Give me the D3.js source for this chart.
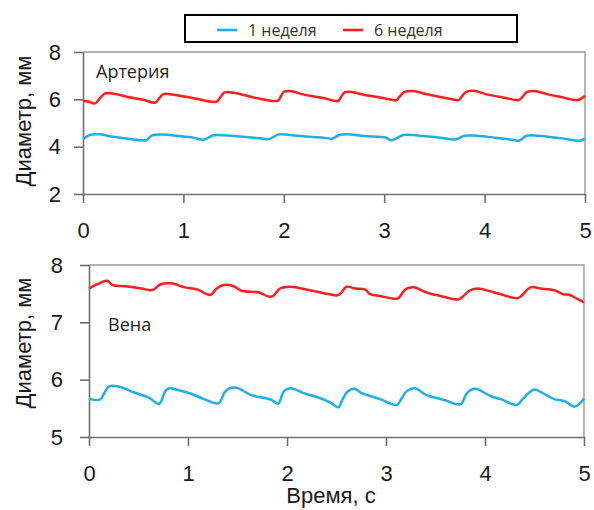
<!DOCTYPE html>
<html>
<head>
<meta charset="utf-8">
<script src="https://cdn.jsdelivr.net/npm/d3@7"></script>
<style>
  html, body { margin: 0; padding: 0; background: #fff; }
  svg { display: block; }
</style>
</head>
<body>
<svg id="chart" width="594" height="510"></svg>
<script>
// Diameter traces, [time s, diameter mm]
const arteryWeek1 = [
  [0,4.32],[0.07,4.5],[0.17,4.52],[0.3,4.42],[0.45,4.33],[0.58,4.27],[0.63,4.27],[0.68,4.46],
  [0.78,4.51],[0.95,4.45],[1.1,4.38],[1.2,4.29],[1.3,4.48],[1.5,4.45],[1.7,4.38],[1.8,4.33],
  [1.85,4.32],[1.95,4.52],[2.06,4.49],[2.25,4.42],[2.45,4.35],[2.48,4.33],[2.55,4.49],[2.63,4.52],
  [2.8,4.45],[3.02,4.38],[3.07,4.27],[3.12,4.35],[3.19,4.49],[3.29,4.49],[3.39,4.45],[3.56,4.38],
  [3.66,4.31],[3.72,4.31],[3.8,4.46],[3.92,4.46],[4.1,4.38],[4.29,4.28],[4.34,4.25],[4.42,4.46],
  [4.53,4.46],[4.65,4.41],[4.78,4.35],[4.95,4.25],[5.0,4.35]
];
const arteryWeek6 = [
  [0,5.93],[0.06,5.9],[0.12,5.83],[0.17,6.05],[0.22,6.25],[0.31,6.24],[0.45,6.1],[0.6,5.98],
  [0.72,5.86],[0.76,6.05],[0.8,6.22],[0.92,6.18],[1.1,6.05],[1.33,5.9],[1.37,6.1],[1.41,6.29],
  [1.5,6.28],[1.7,6.08],[1.94,5.94],[1.97,6.12],[2.0,6.32],[2.08,6.34],[2.19,6.21],[2.4,6.05],
  [2.54,5.93],[2.57,6.1],[2.61,6.3],[2.69,6.3],[2.81,6.18],[3.0,6.05],[3.12,5.96],[3.15,6.1],
  [3.2,6.3],[3.29,6.35],[3.39,6.25],[3.46,6.18],[3.6,6.07],[3.74,5.97],[3.77,6.1],[3.81,6.3],
  [3.89,6.36],[4.02,6.21],[4.2,6.07],[4.34,5.97],[4.38,6.12],[4.42,6.3],[4.5,6.35],[4.62,6.22],
  [4.75,6.11],[4.93,5.97],[5.0,6.15]
];
const veinWeek1 = [
  [0,5.67],[0.11,5.65],[0.15,5.75],[0.2,5.88],[0.3,5.88],[0.45,5.78],[0.6,5.69],[0.71,5.58],
  [0.77,5.8],[0.81,5.85],[0.9,5.82],[1.04,5.75],[1.15,5.67],[1.31,5.59],[1.37,5.78],[1.42,5.85],
  [1.49,5.86],[1.64,5.73],[1.84,5.65],[1.91,5.58],[1.97,5.8],[2.04,5.85],[2.16,5.77],[2.33,5.68],
  [2.44,5.6],[2.52,5.52],[2.56,5.65],[2.61,5.79],[2.68,5.84],[2.75,5.77],[2.94,5.66],[3.11,5.56],
  [3.15,5.65],[3.21,5.8],[3.29,5.85],[3.41,5.73],[3.58,5.65],[3.72,5.57],[3.76,5.58],[3.82,5.77],
  [3.9,5.84],[4.06,5.71],[4.16,5.66],[4.32,5.56],[4.38,5.66],[4.45,5.78],[4.5,5.83],[4.62,5.73],
  [4.7,5.66],[4.8,5.63],[4.91,5.53],[5.0,5.67]
];
const veinWeek6 = [
  [0,7.59],[0.09,7.67],[0.16,7.72],[0.19,7.72],[0.24,7.65],[0.37,7.63],[0.53,7.59],[0.62,7.56],
  [0.66,7.58],[0.72,7.66],[0.83,7.68],[0.97,7.61],[1.1,7.57],[1.17,7.51],[1.23,7.48],[1.29,7.59],
  [1.36,7.65],[1.46,7.63],[1.54,7.55],[1.72,7.52],[1.81,7.45],[1.86,7.46],[1.93,7.59],[2.03,7.62],
  [2.23,7.56],[2.43,7.49],[2.5,7.47],[2.54,7.5],[2.6,7.62],[2.69,7.59],[2.79,7.57],[2.84,7.49],
  [2.94,7.46],[3.1,7.41],[3.13,7.43],[3.2,7.58],[3.28,7.61],[3.41,7.52],[3.55,7.46],[3.73,7.4],
  [3.77,7.44],[3.84,7.55],[3.92,7.59],[4.08,7.53],[4.32,7.42],[4.36,7.45],[4.46,7.61],[4.56,7.59],
  [4.7,7.56],[4.79,7.49],[4.85,7.48],[4.92,7.42],[5.0,7.35]
];

const timeTicks = [0, 1, 2, 3, 4, 5];
const arteryTicks = [2, 4, 6, 8];
const veinTicks = [5, 6, 7, 8];
const seriesNames = ["1 неделя", "6 неделя"];
const seriesColors = ["#20aee8", "#ff1f1f"];

const svg = d3.select("#chart");
const tickFont = "'Liberation Sans', Arial, sans-serif";
const labelFont = "'Open Sans', 'Noto Sans', sans-serif";

const panels = [
  { name: "Артерия", left: 83, right: 585, top: 52, bottom: 194, domain: [2, 8], ticks: arteryTicks,
    series: [arteryWeek1, arteryWeek6], labelX: 96, labelY: 78, yPad: 13, ylabelY: 121 },
  { name: "Вена", left: 89, right: 584, top: 265, bottom: 437, domain: [5, 8], ticks: veinTicks,
    series: [veinWeek1, veinWeek6], labelX: 108, labelY: 331, yPad: 17, ylabelY: 343 }
];

panels.forEach(p => {
  const x = d3.scaleLinear().domain([0, 5]).range([p.left, p.right]);
  const y = d3.scaleLinear().domain(p.domain).range([p.bottom, p.top]);
  const g = svg.append("g");

  // light frame on top and right
  g.append("path")
    .attr("d", `M${p.left},${p.top}H${p.right}V${p.bottom}`)
    .attr("fill", "none").attr("stroke", "#9a9a9a").attr("stroke-width", 1.4);

  const xAxis = g.append("g").attr("transform", `translate(0,${p.bottom})`)
    .call(d3.axisBottom(x).tickValues(timeTicks).tickFormat(d3.format("d"))
      .tickSizeInner(9).tickSizeOuter(0).tickPadding(19));
  const yAxis = g.append("g").attr("transform", `translate(${p.left},0)`)
    .call(d3.axisLeft(y).tickValues(p.ticks).tickFormat(d3.format("d"))
      .tickSizeInner(9).tickSizeOuter(0).tickPadding(p.yPad));

  [xAxis, yAxis].forEach(a => {
    a.select(".domain").attr("stroke", "#707070").attr("stroke-width", 1.6);
    a.selectAll(".tick line").attr("stroke", "#707070").attr("stroke-width", 1.6);
    a.selectAll(".tick text").attr("font-family", tickFont).attr("font-size", 22).attr("fill", "#1a1a1a");
  });

  const line = d3.line().x(d => x(d[0])).y(d => y(d[1])).curve(d3.curveCatmullRom.alpha(0.5));
  p.series.forEach((s, i) => {
    g.append("path").datum(s)
      .attr("d", line)
      .attr("fill", "none")
      .attr("stroke", seriesColors[i])
      .attr("stroke-width", 2.5)
      .attr("stroke-linejoin", "round");
  });

  g.append("text").attr("x", p.labelX).attr("y", p.labelY)
    .attr("font-family", labelFont).attr("font-size", 18).attr("fill", "#222")
    .text(p.name);

  g.append("text")
    .attr("transform", `translate(31,${p.ylabelY}) rotate(-90)`)
    .attr("text-anchor", "middle")
    .attr("font-family", tickFont).attr("font-size", 22).attr("fill", "#1a1a1a")
    .text("Диаметр, мм");
});

svg.append("text").attr("x", 331).attr("y", 503)
  .attr("text-anchor", "middle")
  .attr("font-family", tickFont).attr("font-size", 22).attr("fill", "#1a1a1a")
  .text("Время, с");

// legend
const legend = svg.append("g");
legend.append("rect").attr("x", 185).attr("y", 15).attr("width", 332).attr("height", 27)
  .attr("fill", "#fff").attr("stroke", "#000").attr("stroke-width", 2);
const legendX = [217, 343];
seriesNames.forEach((n, i) => {
  legend.append("line").attr("x1", legendX[i]).attr("x2", legendX[i] + 20)
    .attr("y1", 30).attr("y2", 30)
    .attr("stroke", seriesColors[i]).attr("stroke-width", 2.6);
  legend.append("text").attr("x", legendX[i] + 31).attr("y", 36)
    .attr("font-family", labelFont).attr("font-size", 16).attr("fill", "#333")
    .text(n);
});
</script>
</body>
</html>
